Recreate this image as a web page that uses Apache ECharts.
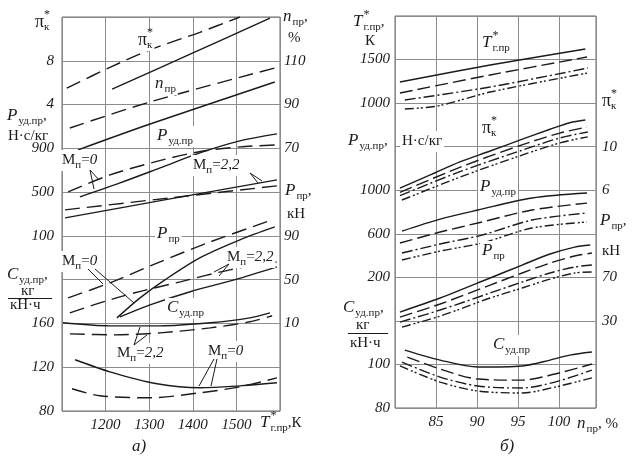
<!DOCTYPE html>
<html><head><meta charset="utf-8">
<script src="https://cdn.jsdelivr.net/npm/echarts@6/dist/echarts.min.js"></script>
<style>html,body{margin:0;padding:0;background:#fff}#c{width:635px;height:459px}</style>
</head><body><div id="c"></div>
<script>
// ===== Panel а): x = T*г.пр, К =====
const xTicksA = [1200, 1300, 1400, 1500];
const yTicksA_pi = [4, 8];
const yTicksA_pud = [100, 500, 900];
const yTicksA_c = [80, 120, 160];
const yTicksA_n = [70, 90, 110];
const yTicksA_ppr = [10, 50, 90];

const piA_solid = [[1215,5.4],[1394,8.6],[1577,11.9]];
const piA_dash = [[1111,5.5],[1210,7.4],[1302,9.0],[1416,10.6],[1508,12.0]];
const nA_solid = [[1137,69.3],[1302,81.1],[1588,100.3]];
const nA_dash = [[1118,79.3],[1302,91.2],[1588,106.7]];
const pudA_m0_solid = [[1141,456],[1233,584],[1325,721],[1416,858],[1508,968],[1593,1032]];
const pudA_m0_dash = [[1114,502],[1210,657],[1313,776],[1412,867],[1508,913],[1593,931]];
const pudA_m22_solid = [[1107,265],[1348,438],[1593,612]];
const pudA_m22_dash = [[1107,338],[1348,447],[1593,557]];
const pprA_m0_dash = [[1114,33.4],[1210,47.1],[1325,66.3],[1440,84.5],[1582,104.6]];
const pprA_m0_solid = [[1226,15.1],[1279,33.4],[1336,49.8],[1416,69.9],[1508,86.4],[1588,98.2]];
const pprA_m22_dash = [[1118,19.7],[1187,28.8],[1267,38.0],[1371,48.0],[1485,59.0],[1593,66.3]];
const pprA_m22_solid = [[1233,16.0],[1302,27.0],[1394,39.0],[1497,50.0],[1593,61.7]];
const cA_m22_solid = [[1102,160.6],[1210,157.8],[1325,157.8],[1440,160.6],[1531,165.1],[1577,169.7]];
const cA_m22_dash = [[1118,150.5],[1222,149.6],[1325,151.4],[1440,156.0],[1531,161.5],[1582,167.0]];
const cA_m0_solid = [[1130,126.8],[1210,115.8],[1318,104.9],[1416,101.2],[1508,103.0],[1593,105.8]];
const cA_m0_dash = [[1123,100.3],[1187,93.9],[1302,92.1],[1416,96.6],[1508,102.1],[1593,110.3]];

// ===== Panel б): x = n пр, % =====
const xTicksB = [85, 90, 95, 100];
const yTicksB_t = [1000, 1500];
const yTicksB_pud = [200, 600, 1000];
const yTicksB_c = [80, 100];
const yTicksB_pi = [6, 10];
const yTicksB_ppr = [30, 70];

const tB_solid = [[80.6,1242],[91.6,1437],[103.2,1621]];
const tB_dash = [[80.6,1116],[91.6,1323],[103.4,1529]];
const tB_dashdot = [[81.2,1036],[91.6,1185],[103.5,1403]];
const tB_dashdotdot = [[81.2,932],[85.2,967],[91.6,1127],[103.5,1346]];
const piB_solid = [[80.6,6.2],[84.3,7.4],[87.9,8.6],[91.6,9.6],[95.2,10.6],[98.9,11.6],[101.3,12.2],[103.2,12.45]];
const piB_dash = [[80.6,5.8],[87.9,8.1],[95.2,10.1],[100.1,11.25],[103.4,11.8]];
const piB_dashdot = [[80.6,5.5],[87.9,7.7],[95.2,9.6],[100.1,10.8],[103.5,11.35]];
const piB_dashdotdot = [[80.85,5.1],[87.9,7.2],[95.2,9.15],[100.1,10.35],[103.5,10.9]];
const pudB_solid = [[80.85,625],[85.5,735],[90.1,818],[96.7,928],[103.4,974]];
const pudB_dash = [[80.6,515],[85.5,616],[90.1,699],[96.7,818],[103.4,882]];
const pudB_dashdot = [[80.85,423],[85.5,506],[90.6,588],[96.7,726],[103.4,791]];
const pudB_dashdotdot = [[80.85,359],[85.5,441],[90.6,515],[96.7,653],[103.4,708]];
const pprB_solid = [[80.6,38.1],[85.5,51.0],[91.6,69.4],[95.5,81.3],[98.9,91.4],[101.9,97.8],[103.8,99.7]];
const pprB_dash = [[80.6,33.5],[85.5,45.5],[91.6,62.9],[95.5,74.0],[98.9,83.1],[101.9,89.6],[104.0,92.3]];
const pprB_dashdot = [[80.6,28.9],[85.5,40.0],[91.6,55.6],[95.5,65.7],[98.9,74.0],[101.9,79.5],[104.0,81.3]];
const pprB_dashdotdot = [[80.85,24.3],[85.5,34.4],[91.6,51.0],[95.5,60.2],[98.9,68.4],[101.9,74.0],[104.0,74.9]];
const cB_solid = [[81.2,106.6],[85.5,102.0],[90.1,98.8],[95.5,99.3],[98.9,102.0],[101.3,104.3],[104.0,105.7]];
const cB_dash = [[81.5,103.4],[85.5,97.9],[90.1,93.3],[95.5,92.8],[99.5,95.6],[104.0,100.2]];
const cB_dashdot = [[80.85,101.1],[85.5,94.2],[90.1,90.1],[95.5,89.2],[99.5,91.9],[104.0,97.4]];
const cB_dashdotdot = [[80.6,99.3],[85.5,91.9],[90.1,87.8],[95.5,86.9],[99.5,89.6],[104.0,93.8]];

// ===== rendering =====
const FONT = 'Liberation Serif';
const INK = '#1b1b1b';
const GRIDC = '#8c8c8c';
const NUMSIZE = 15;

function baseAxis(g) {
  return {type:'value', gridIndex:g, min:0, max:9, interval:1,
    axisLine:{show:false}, axisTick:{show:false}, axisLabel:{show:false},
    splitLine:{show:true, lineStyle:{color:GRIDC, width:1}}};
}
function valAxis(g, min, max, interval, ticks, position, margin) {
  return {type:'value', gridIndex:g, min, max, interval, position,
    axisLine:{show:false}, axisTick:{show:false}, splitLine:{show:false},
    axisLabel:{show:true, margin, showMinLabel:true, showMaxLabel:true,
      fontFamily:FONT, fontStyle:'italic', fontSize:NUMSIZE, color:INK,
      formatter: v => { const r = Math.round(v*100)/100; return ticks.indexOf(r) >= 0 ? String(r) : ''; }}};
}
function xAxisDef(g, min, max, interval, ticks) {
  return {type:'value', gridIndex:g, min, max, interval,
    axisLine:{show:false}, axisTick:{show:false},
    splitLine:{show:true, lineStyle:{color:GRIDC, width:1}},
    axisLabel:{margin:7, showMinLabel:true, showMaxLabel:true, fontFamily:FONT, fontStyle:'italic', fontSize:NUMSIZE, color:INK,
      formatter: v => { const r = Math.round(v*100)/100; return ticks.indexOf(r) >= 0 ? String(r) : ''; }}};
}

const yAxes = [
  baseAxis(0),                                            // 0
  valAxis(0, -24, 12, 4, yTicksA_pi, 'left', 8),           // 1
  valAxis(0, -1500, 2100, 100, yTicksA_pud, 'left', 8),    // 2
  valAxis(0, 80, 440, 40, yTicksA_c, 'left', 8),           // 3
  valAxis(0, -50, 130, 10, yTicksA_n, 'right', 4),         // 4
  valAxis(0, -70, 290, 10, yTicksA_ppr, 'right', 4),       // 5
  baseAxis(1),                                            // 6
  valAxis(1, -2500, 2000, 500, yTicksB_t, 'left', 5),      // 7
  valAxis(1, -1000, 2600, 200, yTicksB_pud, 'left', 5),    // 8
  valAxis(1, 80, 260, 20, yTicksB_c, 'left', 5),           // 9
  valAxis(1, -14, 22, 2, yTicksB_pi, 'right', 6),          // 10
  valAxis(1, -50, 310, 10, yTicksB_ppr, 'right', 6)        // 11
];

const DASH_A = [15, 7];
const DASH = [13, 5];
const DASHDOT = [11, 3, 2, 3];
const DASHDOTDOT = [9, 3, 2, 2, 2, 3];
const series = [];
function line(data, xi, yi, type) {
  series.push({type:'line', xAxisIndex:xi, yAxisIndex:yi, data, smooth:0.3, symbol:'none', showSymbol:false, silent:true,
    lineStyle:{color:INK, width:1.4, type:type || 'solid'}, z:3});
}
line(piA_solid, 0, 1); line(piA_dash, 0, 1, DASH_A);
line(nA_solid, 0, 4); line(nA_dash, 0, 4, DASH_A);
line(pudA_m0_solid, 0, 2); line(pudA_m0_dash, 0, 2, DASH_A);
line(pudA_m22_solid, 0, 2); line(pudA_m22_dash, 0, 2, DASH_A);
line(pprA_m0_solid, 0, 5); line(pprA_m0_dash, 0, 5, DASH_A);
line(pprA_m22_solid, 0, 5); line(pprA_m22_dash, 0, 5, DASH_A);
line(cA_m22_solid, 0, 3); line(cA_m22_dash, 0, 3, DASH_A);
line(cA_m0_solid, 0, 3); line(cA_m0_dash, 0, 3, DASH_A);

line(tB_solid, 1, 7); line(tB_dash, 1, 7, DASH); line(tB_dashdot, 1, 7, DASHDOT); line(tB_dashdotdot, 1, 7, DASHDOTDOT);
line(piB_solid, 1, 10); line(piB_dash, 1, 10, DASH); line(piB_dashdot, 1, 10, DASHDOT); line(piB_dashdotdot, 1, 10, DASHDOTDOT);
line(pudB_solid, 1, 8); line(pudB_dash, 1, 8, DASH); line(pudB_dashdot, 1, 8, DASHDOT); line(pudB_dashdotdot, 1, 8, DASHDOTDOT);
line(pprB_solid, 1, 11); line(pprB_dash, 1, 11, DASH); line(pprB_dashdot, 1, 11, DASHDOT); line(pprB_dashdotdot, 1, 11, DASHDOTDOT);
line(cB_solid, 1, 9); line(cB_dash, 1, 9, DASH); line(cB_dashdot, 1, 9, DASHDOT); line(cB_dashdotdot, 1, 9, DASHDOTDOT);

// ----- text annotations -----
const GR = [];
const mctx = document.createElement('canvas').getContext('2d');
function lab(x, y, parts, bg) {
  let cx = x; const els = [];
  parts.forEach(([t, k]) => {
    let sz = 15, it = false, dy = 0, adv = true;
    if (k === 'I') { sz = 17; it = true; }
    else if (k === 'R') { sz = 15; }
    else if (k === 'n') { sz = 15; it = true; }
    else if (k === 'b') { sz = 11; dy = 5; }
    else if (k === 'p') { sz = 12; dy = -7; adv = false; }
    else if (k === 'g') { sz = 18; }
    mctx.font = (it ? 'italic ' : '') + sz + 'px "' + FONT + '"';
    const w = mctx.measureText(t).width;
    els.push({type:'text', x:cx, y:y + dy, z:100, silent:true,
      style:{text:t, fontSize:sz, fontFamily:FONT, fontStyle:it ? 'italic' : 'normal', fill:INK, align:'left', verticalAlign:'middle'}});
    if (adv) cx += w + (k === 'I' ? 1 : 0);
  });
  if (bg) GR.push({type:'rect', z:90, silent:true, shape:{x:x - 2, y:y - 10, width:cx - x + 4, height:21}, style:{fill:'#fff'}});
  els.forEach(e => GR.push(e));
}
function seg(pts) {
  GR.push({type:'polyline', z:95, silent:true, shape:{points:pts}, style:{stroke:INK, lineWidth:1, fill:null}});
}
const PI = [['π','g'],['*','p'],['к','b']];
const M0 = [['M','R'],['п','b'],['=','R'],['0','n']];
const M22 = [['M','R'],['п','b'],['=','R'],['2,2','n']];

// panel а) axis titles
lab(35, 22, PI);
lab(7, 116, [['P','I'],['уд.пр','b'],[',','R']]);
lab(8, 136, [['Н·с/кг','R']]);
lab(7, 275, [['C','I'],['уд.пр','b'],[',','R']]);
lab(21, 291, [['кг','R']]);
seg([[8, 298.5], [52, 298.5]]);
lab(10, 305, [['кН·ч','R']]);
lab(283, 17, [['n','I'],['пр','b'],[',','R']]);
lab(288, 38, [['%','R']]);
lab(285, 191, [['P','I'],['пр','b'],[',','R']]);
lab(287, 214, [['кН','R']]);
lab(260, 423, [['T','I'],['*','p'],['г.пр','b'],[',К','R']]);
lab(132, 447, [['а)','I']]);
// panel а) curve labels
lab(138, 40, PI, true);
lab(155, 84, [['n','I'],['пр','b']], true);
lab(157, 136, [['P','I'],['уд.пр','b']], true);
lab(62, 160, M0, true);
lab(193, 165, M22, true);
lab(157, 234, [['P','I'],['пр','b']], true);
lab(62, 261, M0, true);
lab(227, 257, M22, true);
lab(167, 308, [['C','I'],['уд.пр','b']], true);
lab(117, 353, M22, true);
lab(208, 351, M0, true);
// leaders а)
seg([[90, 170], [99, 180]]); seg([[90, 170], [94, 189]]);
seg([[250, 173], [258, 183]]); seg([[250, 173], [262, 181]]);
seg([[88, 269], [103, 284]]); seg([[95, 269], [134, 303]]);
seg([[229, 264], [214, 272]]); seg([[229, 264], [219, 276]]);
seg([[134, 345], [140, 327]]); seg([[134, 345], [147, 335]]);
seg([[214, 359], [199, 386]]); seg([[217, 359], [211, 386]]);

// panel б) axis titles
lab(353, 22, [['T','I'],['*','p'],['г.пр','b'],[',','R']]);
lab(365, 41, [['К','R']]);
lab(602, 101, PI);
lab(348, 141, [['P','I'],['уд.пр','b'],[',','R']], true);
lab(402, 141, [['Н·с/кг','R']], true);
lab(600, 221, [['P','I'],['пр','b'],[',','R']]);
lab(602, 251, [['кН','R']]);
lab(343, 308, [['C','I'],['уд.пр','b'],[',','R']]);
lab(356, 325, [['кг','R']]);
seg([[348, 333.5], [388, 333.5]]);
lab(350, 343, [['кН·ч','R']]);
lab(577, 424, [['n','I'],['пр','b'],[', %','R']]);
lab(500, 447, [['б)','I']]);
// panel б) curve labels
lab(482, 43, [['T','I'],['*','p'],['г.пр','b']], true);
lab(482, 128, PI, true);
lab(480, 187, [['P','I'],['уд.пр','b']], true);
lab(482, 251, [['P','I'],['пр','b']], true);
lab(493, 345, [['C','I'],['уд.пр','b']], true);

const chart = echarts.init(document.getElementById('c'), null, {renderer:'canvas'});
chart.setOption({
  animation:false,
  backgroundColor:'#fff',
  grid:[
    {left:62, top:17, width:218, height:394, show:true, borderColor:'#666', borderWidth:1, backgroundColor:'transparent'},
    {left:395, top:16, width:201, height:392, show:true, borderColor:'#666', borderWidth:1, backgroundColor:'transparent'}
  ],
  xAxis:[ xAxisDef(0, 1100, 1600, 100, xTicksA), xAxisDef(1, 80, 104.5, 5, xTicksB) ],
  yAxis: yAxes,
  series,
  graphic:{elements:GR}
});
</script></body></html>
